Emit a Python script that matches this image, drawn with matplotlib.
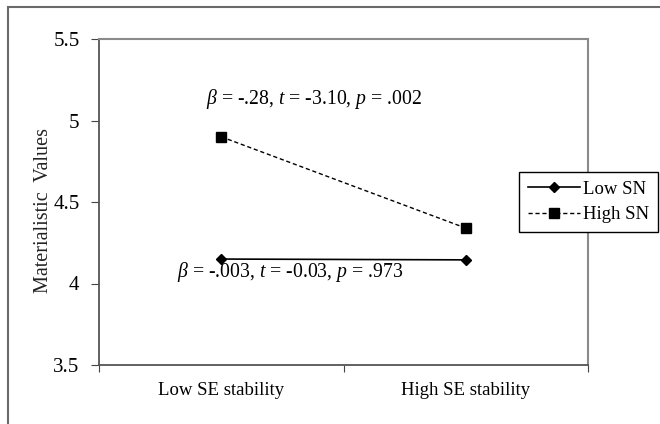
import matplotlib
matplotlib.use("Agg")
import matplotlib.pyplot as plt
from matplotlib.patches import Rectangle

categories = ["Low SE stability", "High SE stability"]
low_sn = [4.15, 4.145]
high_sn = [4.90, 4.34]
y_ticks = [3.5, 4, 4.5, 5, 5.5]
y_tick_labels = ["3.5", "4", "4.5", "5", "5.5"]
note_high = r"$\beta$ = -.28, $t$ = -3.10, $p$ = .002"
note_low = r"$\beta$ = -.003, $t$ = -0.03, $p$ = .973"

plt.rcParams['font.family'] = ['Liberation Serif', 'DejaVu Serif']
plt.rcParams['mathtext.fontset'] = 'custom'
plt.rcParams['mathtext.it'] = 'Liberation Serif:italic'
plt.rcParams['mathtext.rm'] = 'Liberation Serif'

fig = plt.figure(figsize=(6.6, 4.24), dpi=100)
ax = fig.add_axes([99/660, 1-365/424, 489/660, 326/424])

# outer frame
fig.patches.append(Rectangle((8/660, -0.05), 1.0, 1-7/424+0.05, transform=fig.transFigure,
                             fill=False, edgecolor='#6a6a6a', linewidth=1.5, zorder=0))

x = [0, 1]
ax.plot(x, low_sn, color='black', linestyle='-', linewidth=1.2, marker='D', markersize=5,
        label='Low SN')
ax.plot(x, high_sn, color='black', linestyle=(0, (3, 2)), linewidth=1.0, marker='s', markersize=7.5,
        label='High SN')

ax.set_xlim(-0.5, 1.5)
ax.set_ylim(3.5, 5.5)
ax.set_yticks(y_ticks)
ax.set_yticklabels(y_tick_labels, fontsize=15)
ax.set_xticks([-0.5, 0.5, 1.5])
ax.set_xticklabels([])
ax.set_xticks(x, minor=True)
ax.set_xticklabels(categories, minor=True, fontsize=13.5)
ax.tick_params(axis='x', which='minor', length=0, pad=12)
ax.tick_params(axis='x', which='major', direction='out', length=5, color='#444444')
ax.tick_params(axis='y', direction='out', length=6, color='#444444', pad=8)

for side in ['left', 'bottom']:
    ax.spines[side].set_color('#555555')
    ax.spines[side].set_linewidth(1.3)
for side in ['top', 'right']:
    ax.spines[side].set_color('#8a8a8a')
    ax.spines[side].set_linewidth(1.5)

ax.set_ylabel("Materialistic  Values", fontsize=14.5, color='#222222')
ax.yaxis.set_label_coords(-0.095, 0.475)

ax.text(0.38, 5.13, note_high, ha='center', va='center', fontsize=14.2)
ax.text(0.28, 4.07, note_low, ha='center', va='center', fontsize=14.2)

leg = fig.legend(loc='center', bbox_to_anchor=(588.5/660, 1-202/424), fontsize=13.5,
                 frameon=True, fancybox=False, edgecolor='black', framealpha=1,
                 handlelength=2.8, borderpad=0.45, labelspacing=0.45, handletextpad=0.15)
leg.get_frame().set_linewidth(1.0)

fig.savefig("out.png", dpi=100)
